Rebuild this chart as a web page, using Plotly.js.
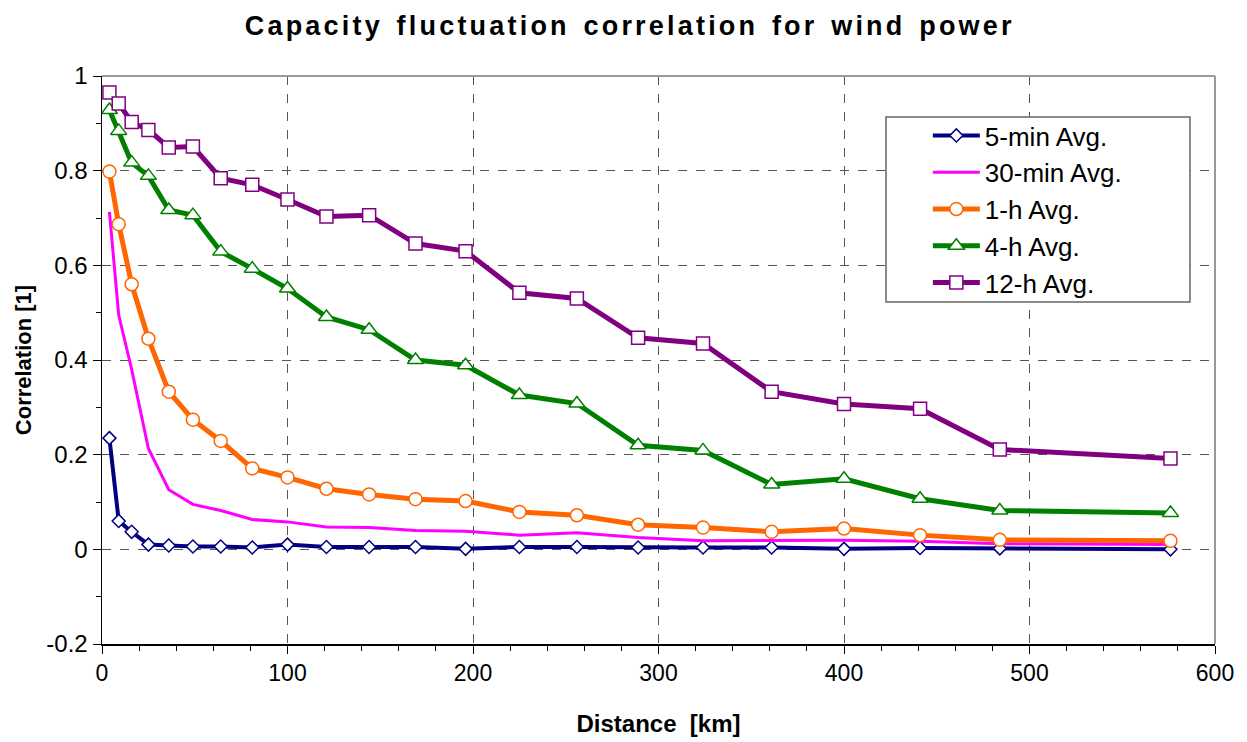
<!DOCTYPE html>
<html>
<head>
<meta charset="utf-8">
<script src="https://cdn.plot.ly/plotly-3.0.1.min.js"></script>
<style>
html,body{margin:0;padding:0;background:#fff;}
#chart{width:1247px;height:742px;}
.gtitle{letter-spacing:3.2px;word-spacing:3px;}
</style>
</head>
<body>
<div id="chart"></div>
<script>
const distance = [4, 9, 16, 25, 36, 49, 64, 81, 100, 121, 144, 169, 196, 225, 256, 289, 324, 361, 400, 441, 484, 576];
const avg5min  = [0.235, 0.060, 0.037, 0.010, 0.008, 0.006, 0.006, 0.004, 0.010, 0.005, 0.005, 0.005, 0.001, 0.005, 0.005, 0.004, 0.004, 0.004, 0.001, 0.003, 0.002, 0.000];
const avg30min = [0.713, 0.495, 0.380, 0.213, 0.126, 0.095, 0.082, 0.063, 0.058, 0.047, 0.046, 0.040, 0.038, 0.030, 0.035, 0.025, 0.018, 0.018, 0.019, 0.017, 0.012, 0.010];
const avg1h    = [0.798, 0.687, 0.560, 0.445, 0.333, 0.274, 0.229, 0.171, 0.152, 0.128, 0.116, 0.106, 0.102, 0.079, 0.072, 0.052, 0.046, 0.037, 0.044, 0.030, 0.020, 0.018];
const avg4h    = [0.928, 0.884, 0.817, 0.789, 0.717, 0.706, 0.629, 0.593, 0.551, 0.491, 0.464, 0.400, 0.389, 0.326, 0.308, 0.220, 0.209, 0.137, 0.149, 0.107, 0.082, 0.077];
const avg12h   = [0.965, 0.942, 0.903, 0.886, 0.849, 0.851, 0.784, 0.770, 0.739, 0.703, 0.706, 0.646, 0.630, 0.542, 0.530, 0.447, 0.435, 0.333, 0.307, 0.297, 0.211, 0.192];
const seriesNames = ['5-min Avg.', '30-min Avg.', '1-h Avg.', '4-h Avg.', '12-h Avg.'];
const yTickVals = [-0.2, 0, 0.2, 0.4, 0.6, 0.8, 1];
const yTickText = ['-0.2', '0', '0.2', '0.4', '0.6', '0.8', '1'];

const traces = [
  {x: distance, y: avg5min, name: seriesNames[0], mode: 'lines+markers',
   line: {color: '#000080', width: 4},
   marker: {symbol: 'diamond', size: 10, color: 'white', line: {color: '#000080', width: 1.5}}},
  {x: distance, y: avg30min, name: seriesNames[1], mode: 'lines',
   line: {color: '#FF00FF', width: 3}},
  {x: distance, y: avg1h, name: seriesNames[2], mode: 'lines+markers',
   line: {color: '#FF6600', width: 5},
   marker: {symbol: 'circle', size: 13, color: 'white', line: {color: '#FF6600', width: 1.5}}},
  {x: distance, y: avg4h, name: seriesNames[3], mode: 'lines+markers',
   line: {color: '#008000', width: 5},
   marker: {symbol: 'triangle-up', size: 14, color: 'white', line: {color: '#008000', width: 1.5}}},
  {x: distance, y: avg12h, name: seriesNames[4], mode: 'lines+markers',
   line: {color: '#800080', width: 5},
   marker: {symbol: 'square', size: 13, color: 'white', line: {color: '#800080', width: 1.5}}}
];

const layout = {
  width: 1247, height: 742,
  paper_bgcolor: 'white', plot_bgcolor: 'white',
  margin: {l: 102, r: 32, t: 76, b: 98},
  font: {family: 'Liberation Sans, Arial, sans-serif', color: '#000'},
  title: {text: '<b>Capacity fluctuation correlation for wind power</b>',
          font: {size: 27, family: 'Liberation Sans, Arial, sans-serif', color: '#000'},
          x: 0.505, xanchor: 'center', y: 0.966, yanchor: 'middle'},
  xaxis: {
    range: [0, 600], dtick: 100, tick0: 0,
    showline: true, linecolor: '#000', linewidth: 1.5,
    ticks: 'outside', ticklen: 8, tickcolor: '#000',
    minor: {dtick: 20, ticks: 'outside', ticklen: 5, tickcolor: '#000', showgrid: false},
    showgrid: true, gridcolor: '#555', griddash: 'dash', gridwidth: 1,
    zeroline: false,
    tickfont: {size: 23},
    title: {text: '<b>Distance  [km]</b>', font: {size: 24}, standoff: 30}
  },
  yaxis: {
    range: [-0.2, 1],
    tickmode: 'array', tickvals: yTickVals, ticktext: yTickText,
    showline: true, linecolor: '#000', linewidth: 1.5,
    ticks: 'outside', ticklen: 8, tickcolor: '#000',
    minor: {dtick: 0.1, tick0: 0, ticks: 'outside', ticklen: 5, tickcolor: '#000', showgrid: false},
    showgrid: true, gridcolor: '#555', griddash: 'dash', gridwidth: 1,
    zeroline: false,
    tickfont: {size: 24},
    title: {text: '<b>Correlation [1]</b>', font: {size: 22}, standoff: 8}
  },
  showlegend: true,
  legend: {
    x: 0.742, y: 0.9366, xanchor: 'left', yanchor: 'top',
    bgcolor: 'rgba(0,0,0,0)', borderwidth: 0,
    font: {size: 26}, itemwidth: 47, tracegroupgap: 0
  },
  shapes: [
    {type: 'rect', xref: 'paper', yref: 'paper', x0: 0.7044, x1: 0.9775, y0: 0.6021, y1: 0.9278,
     fillcolor: 'white', line: {color: '#666', width: 1.5}, layer: 'above'},
    {type: 'line', xref: 'paper', yref: 'paper', x0: 0, x1: 1, y0: 1, y1: 1, line: {color: '#999', width: 2}},
    {type: 'line', xref: 'paper', yref: 'paper', x0: 1, x1: 1, y0: 0, y1: 1, line: {color: '#999', width: 2}}
  ]
};

Plotly.newPlot('chart', traces, layout, {displayModeBar: false, staticPlot: true});
</script>
</body>
</html>
